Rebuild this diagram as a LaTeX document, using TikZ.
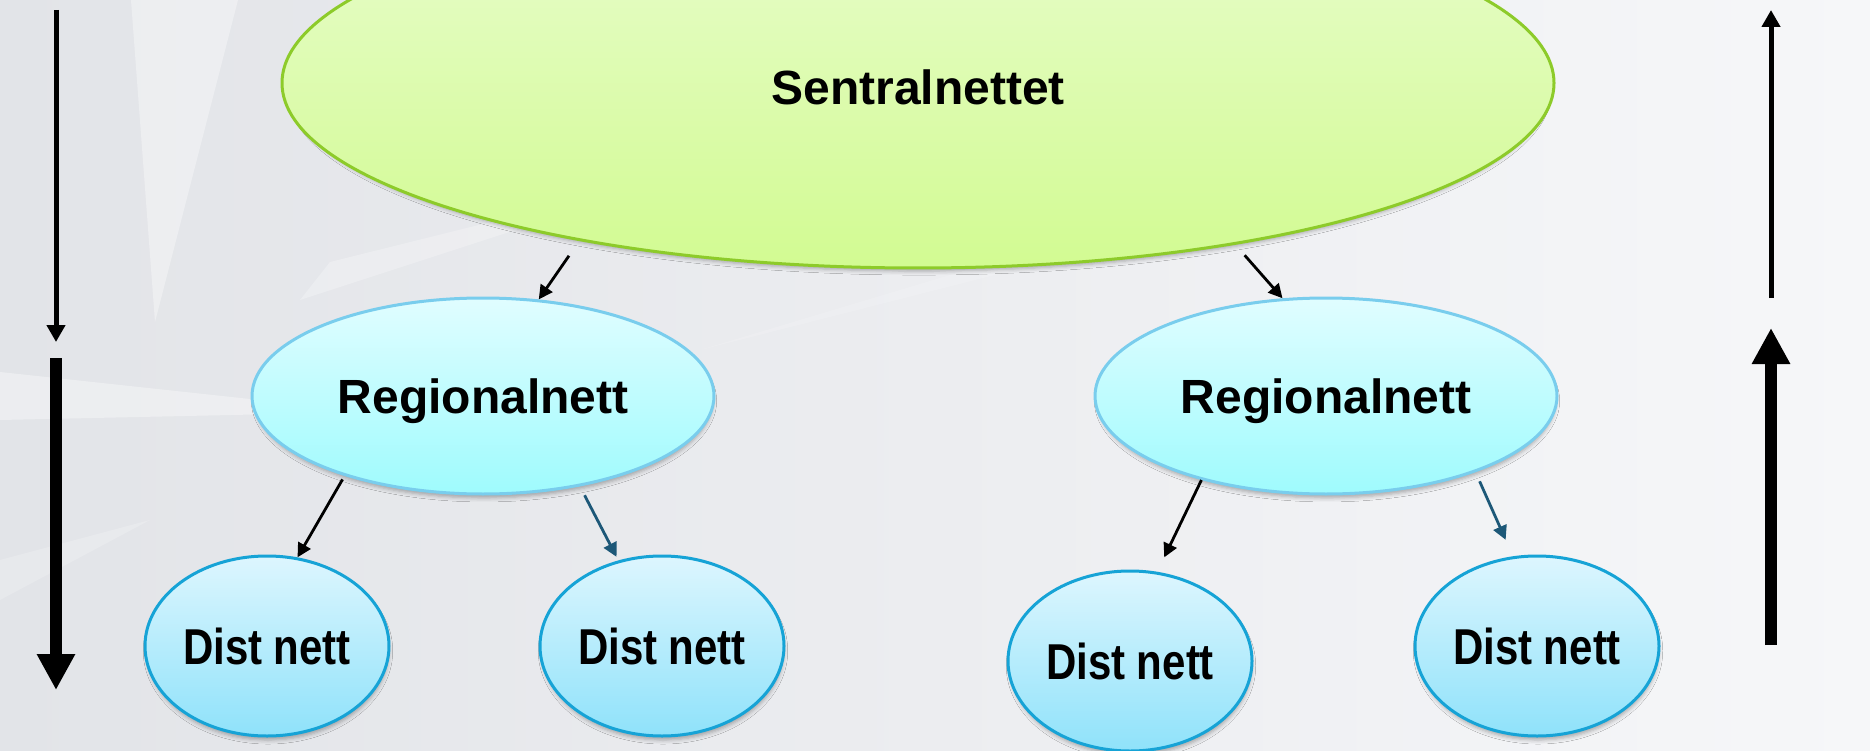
\documentclass[tikz,border=0pt]{standalone}
\usepackage{fontspec}
\usepackage{graphicx}
\setmainfont{Liberation Sans}
\usetikzlibrary{shapes.geometric,arrows.meta,shadows.blur}
\definecolor{bgA}{HTML}{E2E4E8}
\definecolor{bgM}{HTML}{ECEDF0}
\definecolor{bgB}{HTML}{F6F7F9}
\definecolor{greenTop}{HTML}{E8FCCD}
\definecolor{greenBot}{HTML}{D2FB92}
\definecolor{greenLine}{HTML}{8DCB2A}
\definecolor{cyanTop}{HTML}{E0FDFF}
\definecolor{cyanBot}{HTML}{9FFBFD}
\definecolor{cyanLine}{HTML}{79CDED}
\definecolor{blueTop}{HTML}{DDF6FE}
\definecolor{blueBot}{HTML}{8FE2FA}
\definecolor{blueLine}{HTML}{16A3D6}
\definecolor{tealArrow}{HTML}{1D5878}
\begin{document}
\begin{tikzpicture}[x=1pt,y=-1pt,
  blob/.style={ellipse, inner sep=0pt, line width=3pt,
    blur shadow={shadow xshift=1pt, shadow yshift=-5pt, shadow blur radius=4pt, shadow opacity=30, shadow scale=0.99}},
  topnet/.style={blob, draw=greenLine, top color=greenTop, bottom color=greenBot,
    minimum width=1272pt, minimum height=370pt,
    font=\fontsize{48}{56}\selectfont\bfseries, text height=44pt, text depth=0pt},
  regnet/.style={blob, draw=cyanLine, top color=cyanTop, bottom color=cyanBot,
    minimum width=462pt, minimum height=196pt,
    font=\fontsize{48}{56}\selectfont\bfseries, text height=34pt, text depth=0pt},
  distnet/.style={blob, draw=blueLine, top color=blueTop, bottom color=blueBot,
    minimum width=244pt, minimum height=180pt,
    font=\fontsize{42}{50}\selectfont\bfseries, text height=36pt, text depth=0pt},
  conn/.style={-{Triangle[width=14pt,length=14pt]}, line width=2.8pt, black},
  tconn/.style={conn, draw=tealArrow, fill=tealArrow},
  thinside/.style={-{Triangle[width=18pt,length=17pt]}, line width=5pt, black},
  thickside/.style={-{Triangle[width=36pt,length=36pt]}, line width=12pt, black},
  ray/.style={white, opacity=0.35}
]
\useasboundingbox (0,0) rectangle (1870,751);
\clip (0,0) rectangle (1870,751);
% background
\shade[left color=bgA, right color=bgB, middle color=bgM] (0,0) rectangle (1870,751);
\fill[ray] (131,0) -- (238,0) -- (155,322) -- cycle;
\fill[ray] (0,372) -- (0,420) -- (370,412) -- cycle;
\fill[ray, opacity=0.2] (0,560) -- (0,600) -- (150,520) -- cycle;
\fill[ray, opacity=0.25] (300,300) -- (330,262) -- (700,170) -- cycle;
\fill[ray, opacity=0.15] (700,350) -- (1200,200) -- (1250,210) -- cycle;
% nodes
\node[topnet] (sentral) at (918,83) {Sentralnettet};
\node[regnet] (reg1) at (483,396) {Regionalnett};
\node[regnet] (reg2) at (1326,396) {Regionalnett};
\node[distnet] (d1) at (267,646) {\scalebox{1}[1.2]{Dist nett}};
\node[distnet] (d2) at (662,646) {\scalebox{1}[1.2]{Dist nett}};
\node[distnet] (d3) at (1130,661) {\scalebox{1}[1.2]{Dist nett}};
\node[distnet] (d4) at (1537,646) {\scalebox{1}[1.2]{Dist nett}};
% connectors
\draw[conn, shorten <=18pt] (sentral.205.8) -- (reg1.60);
\draw[conn, shorten <=14pt] (sentral.333.8) -- (reg2.114.7);
\draw[conn, shorten <=4pt] (reg1.210.1) -- (d1.71.2);
\draw[tconn, shorten <=10pt, shorten >=4pt] (reg1.317.3) -- (d2.117.3);
\draw[conn, shorten >=16pt] (reg2.214.8) -- (d3.73.7);
\draw[tconn, shorten <=10pt, shorten >=18pt] (reg2.333.3) -- (d4.105.7);
% side arrows
\coordinate (l1a) at (56,10);
\coordinate (l1b) at (56,342);
\coordinate (l2a) at (56,358);
\coordinate (l2b) at (56,690);
\coordinate (r1a) at (1771,298);
\coordinate (r1b) at (1771,10);
\coordinate (r2a) at (1771,645);
\coordinate (r2b) at (1771,328);
\draw[thinside] (l1a) -- (l1b);
\draw[thickside] (l2a) -- (l2b);
\draw[thinside] (r1a) -- (r1b);
\draw[thickside] (r2a) -- (r2b);
\end{tikzpicture}
\end{document}
